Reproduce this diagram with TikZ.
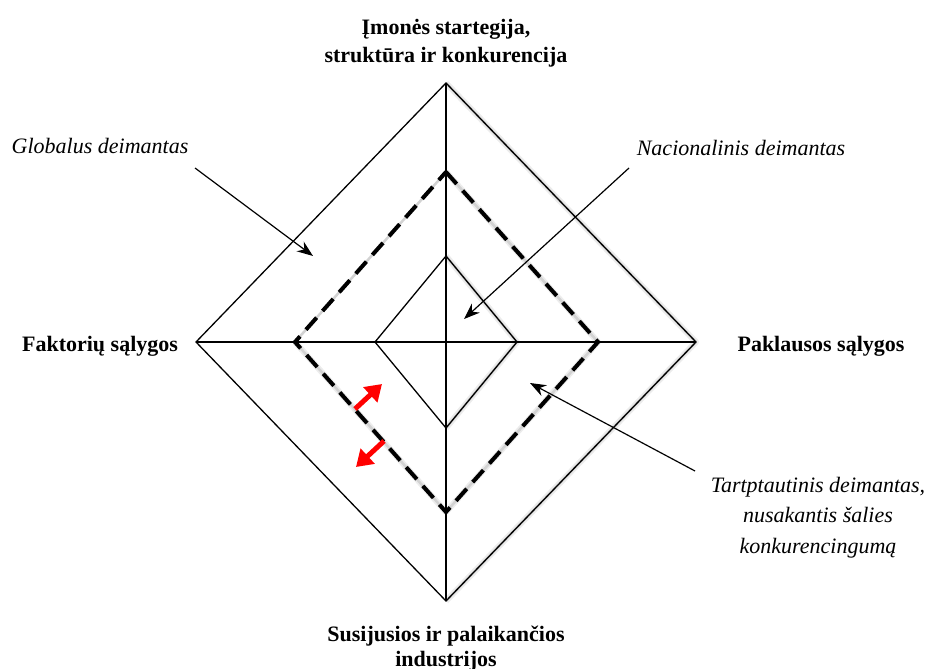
\documentclass[tikz,border=0pt]{standalone}
\usepackage{fontspec}
\setmainfont{Liberation Serif}
\usetikzlibrary{arrows.meta}
\begin{document}
\begin{tikzpicture}[x=1pt,y=-1pt,
  thinline/.style={line width=1.3pt, line join=miter},
  shadowA/.style={gray!15, line width=6pt, line join=round},
  shadowB/.style={gray!35, line width=2.5pt, line join=round},
  dashline/.style={line width=4pt, dash pattern=on 16pt off 9pt, line join=miter},
  lbl/.style={font=\fontsize{22}{28}\selectfont\bfseries, align=center, anchor=base, inner sep=0pt},
  lblb/.style={font=\fontsize{22}{25}\selectfont\bfseries, align=center, anchor=base, inner sep=0pt},
  ilbl/.style={font=\fontsize{22}{30.5}\selectfont\itshape, align=center, anchor=base, inner sep=0pt},
  ptr/.style={line width=1.2pt, -{Stealth[length=16pt,width=12pt]}},
  redarrow/.style={red, line width=5pt, -{Triangle[length=16pt,width=20pt]}}]
\useasboundingbox (0,0) rectangle (929,669);
% vertices
\coordinate (oT) at (446,83);  \coordinate (oL) at (196,342);
\coordinate (oR) at (696,342); \coordinate (oB) at (446,601);
\coordinate (dT) at (446,172); \coordinate (dL) at (295,342);
\coordinate (dR) at (598,342); \coordinate (dB) at (446,512);
\coordinate (iT) at (446,256); \coordinate (iL) at (375,342);
\coordinate (iR) at (517,342); \coordinate (iB) at (446,428);
% shadows
\begin{scope}[shift={(3,3)}]
\draw[shadowA] (oT) -- (oR) -- (oB);
\draw[shadowA] (dT) -- (dR) -- (dB) -- (dL);
\draw[shadowA] (iT) -- (iR) -- (iB);
\end{scope}
\begin{scope}[shift={(1.5,1.5)}]
\draw[shadowB] (oT) -- (oR) -- (oB);
\draw[shadowB] (dT) -- (dR) -- (dB) -- (dL) -- cycle;
\draw[shadowB] (iT) -- (iR) -- (iB);
\end{scope}
% diamonds and axes
\draw[thinline] (oT) -- (oR) -- (oB) -- (oL) -- cycle;
\draw[thinline] (iT) -- (iR) -- (iB) -- (iL) -- cycle;
\draw[thinline] (oL) -- (oR);
\draw[thinline] (oT) -- (oB);
\draw[dashline] (dT) -- (dR) -- (dB) -- (dL) -- cycle;
% labels
\node[lbl] (top) at (446,63) {Įmonės startegija,\\struktūra ir konkurencija};
\node[lbl] (left) at (100,351) {Faktorių sąlygos};
\node[lbl] (right) at (821,351) {Paklausos sąlygos};
\node[lblb] (bottom) at (446,666) {Susijusios ir palaikančios\\industrijos};
\node[ilbl] (glob) at (100,153) {Globalus deimantas};
\node[ilbl] (nac) at (741,155) {Nacionalinis deimantas};
\node[ilbl] (tarp) at (818,553) {Tartptautinis deimantas,\\nusakantis šalies\\konkurencingumą};
% pointers
\coordinate (g1) at (195,168); \coordinate (g2) at (313,256);
\coordinate (n1) at (629,168); \coordinate (n2) at (464,319);
\coordinate (t1) at (695,471); \coordinate (t2) at (530,383);
\draw[ptr] (g1) -- (g2);
\draw[ptr] (n1) -- (n2);
\draw[ptr] (t1) -- (t2);
% red arrows
\coordinate (r1) at (355,409); \coordinate (r2) at (382,384);
\coordinate (r3) at (384,441); \coordinate (r4) at (356,467);
\draw[redarrow] (r1) -- (r2);
\draw[redarrow] (r3) -- (r4);
\end{tikzpicture}
\end{document}
